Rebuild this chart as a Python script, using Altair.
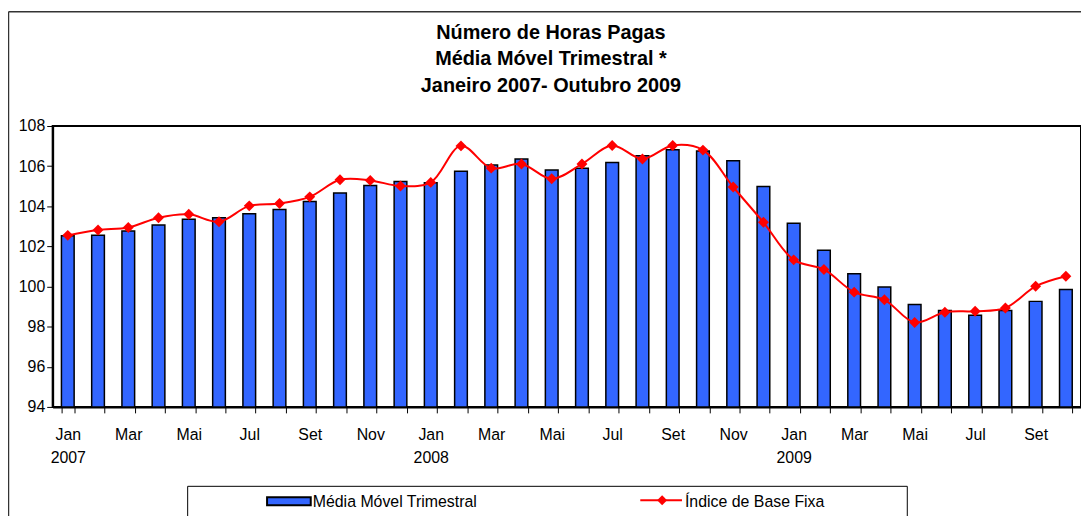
import altair as alt
import pandas as pd

months = ["Jan", "Fev", "Mar", "Abr", "Mai", "Jun", "Jul", "Ago", "Set", "Out", "Nov", "Dez"]
years = ["2007", "2008", "2009"]

media_movel = [102.53, 102.56, 102.77, 103.07, 103.35, 103.43, 103.63, 103.84, 104.24, 104.66,
               105.03, 105.24, 105.17, 105.75, 106.06, 106.36, 105.81, 105.90, 106.18, 106.52,
               106.82, 106.75, 106.27, 104.98, 103.15, 101.81, 100.64, 99.98, 99.11, 98.80,
               98.57, 98.81, 99.26, 99.85]
indice_base = [102.55, 102.82, 102.94, 103.43, 103.60, 103.23, 104.02, 104.14, 104.47, 105.32,
               105.29, 105.01, 105.19, 107.01, 105.90, 106.11, 105.37, 106.11, 107.03, 106.36,
               107.03, 106.80, 104.96, 103.20, 101.33, 100.85, 99.72, 99.34, 98.21, 98.72,
               98.77, 98.93, 100.01, 100.51]

serie_barras = "Média Móvel Trimestral"
serie_linha = "Índice de Base Fixa"
titulo = ["Número de Horas Pagas", "Média Móvel Trimestral *", "Janeiro 2007- Outubro  2009"]

keys = []
for i in range(len(media_movel)):
    keys.append(months[i % 12] + "|" + years[i // 12])

df = pd.DataFrame({"mes": keys, "media": media_movel, "indice": indice_base})
order = keys

FONT = "Liberation Sans"
BLUE = "#3366FF"
RED = "#FF0000"

label_expr = (
    "indexof(['Jan','Mar','Mai','Jul','Set','Nov'], split(datum.value,'|')[0]) >= 0 ? "
    "(split(datum.value,'|')[0] == 'Jan' ? split(datum.value,'|') : split(datum.value,'|')[0]) : ''"
)

x_enc = alt.X("mes:N", sort=order,
              scale=alt.Scale(paddingInner=0.58, paddingOuter=0.29),
              axis=alt.Axis(title=None, labelExpr=label_expr, labelAngle=0,
                            labelFont=FONT, labelFontSize=16, labelColor="black",
                            labelLineHeight=23, labelPadding=14, tickBand="extent",
                            tickSize=6, tickColor="black", domainColor="black",
                            domainWidth=2, labelOverlap=False))
y_scale = alt.Scale(domain=[94, 108], zero=False, nice=False)

bars = alt.Chart(df).mark_bar(color=BLUE, stroke="black", strokeWidth=1.5).encode(
    x=x_enc,
    y=alt.Y("media:Q", scale=y_scale,
            axis=alt.Axis(title=None, values=list(range(94, 109, 2)), grid=False,
                          labelFont=FONT, labelFontSize=16, labelColor="black",
                          labelPadding=2, tickSize=6, tickColor="black",
                          domainColor="black", domainWidth=2)),
    y2=alt.datum(94),
)

line = alt.Chart(df).mark_line(color=RED, strokeWidth=2, interpolate="catmull-rom").encode(
    x=alt.X("mes:N", sort=order),
    y=alt.Y("indice:Q", scale=y_scale),
)
pts = alt.Chart(df).mark_point(shape="diamond", filled=True, size=121, color=RED, opacity=1).encode(
    x=alt.X("mes:N", sort=order),
    y=alt.Y("indice:Q", scale=y_scale),
)

one = pd.DataFrame({"a": [0]})
border_v = alt.Chart(one).mark_rule(color="#333333", strokeWidth=1.5).encode(
    x=alt.value(-44.5), y=alt.value(-115), y2=alt.value(420))
border_h = alt.Chart(one).mark_rule(color="#333333", strokeWidth=1.5).encode(
    x=alt.value(-44.5), x2=alt.value(1040), y=alt.value(-115))

title_txt = alt.Chart(one).mark_text(text=titulo, align="center", baseline="alphabetic",
                                     font=FONT, fontSize=20, fontWeight="bold",
                                     lineHeight=27, color="black").encode(
    x=alt.value(502), y=alt.value(-88))

leg_box = alt.Chart(one).mark_rect(fill="white", stroke="black", strokeWidth=1).encode(
    x=alt.value(136), x2=alt.value(861), y=alt.value(363), y2=alt.value(430))
leg_sw = alt.Chart(one).mark_rect(fill=BLUE, stroke="black", strokeWidth=2).encode(
    x=alt.value(216), x2=alt.value(260), y=alt.value(374), y2=alt.value(382))
leg_t1 = alt.Chart(one).mark_text(text=serie_barras, align="left", baseline="middle",
                                  font=FONT, fontSize=16, color="black").encode(
    x=alt.value(262), y=alt.value(379))
leg_rule = alt.Chart(one).mark_rule(color=RED, strokeWidth=2).encode(
    x=alt.value(592), x2=alt.value(634), y=alt.value(377))
leg_pt = alt.Chart(one).mark_point(shape="diamond", filled=True, size=100, color=RED, opacity=1).encode(
    x=alt.value(614), y=alt.value(377))
leg_t2 = alt.Chart(one).mark_text(text=serie_linha, align="left", baseline="middle",
                                  font=FONT, fontSize=16, color="black").encode(
    x=alt.value(637), y=alt.value(379))

chart = alt.layer(
    border_v, border_h, title_txt, bars, line, pts,
    leg_box, leg_sw, leg_t1, leg_rule, leg_pt, leg_t2
).properties(
    width=1036, height=283,
    background="white",
    autosize=alt.AutoSizeParams(type="none"),
    padding={"left": 45, "top": 117, "right": 0, "bottom": 108},
).configure_view(stroke="black", strokeWidth=2)

chart.save("out.html", embed_options={"renderer": "svg", "actions": False})
